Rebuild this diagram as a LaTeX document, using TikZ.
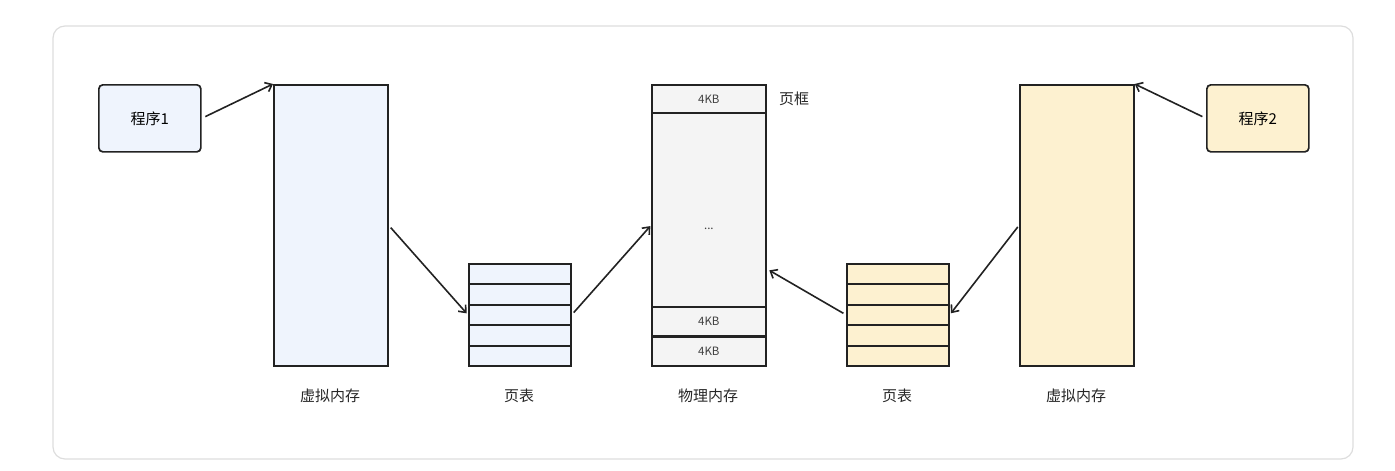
\documentclass[tikz,border=0pt]{standalone}
\usepackage{fontspec}
\setmainfont{Noto Sans CJK SC}
\usetikzlibrary{arrows.meta,positioning,calc}
\definecolor{pgBlue}{HTML}{EFF4FD}
\definecolor{pgYellow}{HTML}{FDF1D0}
\definecolor{pgGray}{HTML}{F4F4F4}
\definecolor{pgLine}{HTML}{222222}
\definecolor{pgFrame}{HTML}{DDDDDD}

\begin{document}
\begin{tikzpicture}[x=1pt, y=-1pt,
  prog/.style={draw=pgLine, line width=1.7pt, rounded corners=4pt, anchor=north west, inner sep=0pt, minimum width=102pt, minimum height=67pt, font=\fontsize{15}{17}\selectfont},
  vmem/.style={draw=pgLine, line width=1.7pt, anchor=north west, inner sep=0pt, minimum width=114pt, minimum height=281pt},
  row/.style={draw=pgLine, line width=1.7pt, anchor=north west, inner sep=0pt, minimum width=102pt, minimum height=20pt},
  cell/.style={draw=pgLine, line width=1.7pt, fill=pgGray, anchor=north west, inner sep=0pt, minimum width=114pt, text=black!75, font=\fontsize{11.5}{13}\selectfont},
  lbl/.style={font=\fontsize{15}{17}\selectfont, text=black!85},
  arr/.style={-{Straight Barb[length=6pt,width=10pt]}, line width=1.6pt, color=pgLine}
]
  \useasboundingbox (0,0) rectangle (1395,471);
  \draw[pgFrame, line width=1.2pt, rounded corners=12pt] (53,26) rectangle (1353,459);

  % left side
  \node[prog, fill=pgBlue] (prog1) at (98,84) {程序1};
  \node[vmem, fill=pgBlue] (vm1) at (273,84) {};
  \node[lbl] (vm1lbl) at (330,396) {虚拟内存};
  \foreach \i in {1,...,5}
    \node[row, fill=pgBlue] (pta\i) at (468,{263+(\i-1)*20.5}) {};
  \node[lbl] (ptalbl) at (519,396) {页表};

  % physical memory
  \node[vmem, fill=pgGray] (pm) at (651,84) {};
  \node[cell, minimum height=28pt] (pmtop) at (651,84) {4KB};
  \node[cell, minimum height=194pt] (pmmid) at (651,112) {};
  \node[cell, minimum height=29pt] (pmlow) at (651,306) {4KB};
  \node[cell, minimum height=28pt] (pmbot) at (651,336.5) {4KB};
  \node[text=black!75, font=\fontsize{11.5}{13}\selectfont] (dots) at ([yshift=-3pt]pm.center) {...};
  \node[lbl, right=9pt of pmtop] (frame) {页框};
  \node[lbl] (pmlbl) at (708,396) {物理内存};

  % right side
  \foreach \i in {1,...,5}
    \node[row, fill=pgYellow] (ptb\i) at (846,{263+(\i-1)*20.5}) {};
  \node[lbl] (ptblbl) at (897,396) {页表};
  \node[vmem, fill=pgYellow] (vm2) at (1019,84) {};
  \node[lbl] (vm2lbl) at (1076,396) {虚拟内存};
  \node[prog, fill=pgYellow] (prog2) at (1206,84) {程序2};

  \draw[arr, shorten <=4pt] (prog1.east) -- (vm1.north west);
  \draw[arr, shorten <=3pt, shorten >=2pt] (vm1.east) -- (pta3.west);
  \draw[arr, shorten <=3pt, shorten >=1pt] (pta3.east) -- (pm.west);
  \draw[arr, shorten <=3pt, shorten >=3pt] (ptb3.west) -- ([yshift=-43.5pt]pm.east);
  \draw[arr, shorten <=2pt, shorten >=2pt] (vm2.west) -- (ptb3.east);
  \draw[arr, shorten <=4pt] (prog2.west) -- (vm2.north east);
\end{tikzpicture}
\end{document}
